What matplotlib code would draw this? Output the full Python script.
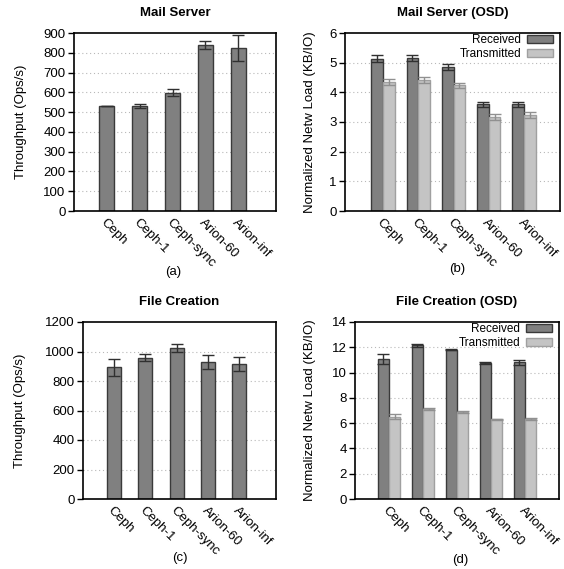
import numpy as np
import matplotlib
matplotlib.use("Agg")
import matplotlib.pyplot as plt
from matplotlib.patches import Patch
from matplotlib.transforms import blended_transform_factory

plt.rcParams['font.family'] = ['Liberation Sans', 'DejaVu Sans']

systems = ["Ceph", "Ceph-1", "Ceph-sync", "Arion-60", "Arion-inf"]

# (a) Mail Server throughput
mail_tput = [531, 531, 597, 839, 824]
mail_tput_err = [2, 9, 18, 21, 68]

# (b) Mail Server OSD network load
mail_rx = [5.14, 5.16, 4.85, 3.59, 3.59]
mail_rx_err = [0.11, 0.10, 0.10, 0.10, 0.10]
mail_tx = [4.35, 4.41, 4.24, 3.17, 3.23]
mail_tx_err = [0.10, 0.10, 0.09, 0.10, 0.10]

# (c) File Creation throughput
fc_tput = [894, 959, 1022, 928, 917]
fc_tput_err = [58, 22, 27, 50, 48]

# (d) File Creation OSD network load
fc_rx = [11.06, 12.16, 11.82, 10.72, 10.80]
fc_rx_err = [0.40, 0.10, 0.02, 0.08, 0.23]
fc_tx = [6.49, 7.12, 6.91, 6.30, 6.36]
fc_tx_err = [0.20, 0.10, 0.07, 0.02, 0.08]

DARK = "#808080"
DARK_EDGE = "#3a3a3a"
LIGHT = "#c4c4c4"
LIGHT_EDGE = "#a0a0a0"

fig = plt.figure(figsize=(5.64, 5.69), dpi=100, facecolor="white")
W, H = 564.0, 569.0

def make_ax(l, t, r, b):
    return fig.add_axes([l / W, 1 - b / H, (r - l) / W, (b - t) / H])

ax_a = make_ax(74, 33, 276, 211)
ax_b = make_ax(345, 33, 560, 211)
ax_c = make_ax(83, 322, 276, 499)
ax_d = make_ax(355, 322, 559, 499)

x = np.arange(len(systems))

def style(ax, title, ylabel, ymax, ystep, xlim, ylabel_x):
    ax.set_ylim(0, ymax)
    ax.set_xlim(*xlim)
    ticks = np.arange(0, ymax + ystep / 2, ystep)
    ax.set_yticks(ticks)
    ax.set_yticklabels([f"{t:g}" for t in ticks], fontsize=9.5)
    for t in ticks[1:-1]:
        ax.axhline(t, color="#b8b8b8", lw=0.8, ls=(0, (1, 2.5)), zorder=0)
    ax.set_xticks(x)
    ax.set_xticklabels(systems, rotation=-45, ha="left", va="top",
                       rotation_mode="anchor", fontsize=9.5)
    ax.tick_params(axis="x", length=0, pad=4)
    ax.tick_params(axis="y", length=4, width=1, direction="out", pad=2)
    for s in ax.spines.values():
        s.set_linewidth(1.2)
    ax.set_title(title, fontsize=9.5, fontweight="bold", pad=12)
    ax.set_ylabel(ylabel, fontsize=9.5)
    tr = blended_transform_factory(fig.transFigure, ax.transAxes)
    ax.yaxis.set_label_coords(ylabel_x, 0.5, transform=tr)

def single(ax, vals, errs):
    ax.bar(x, vals, width=0.45, color=DARK, edgecolor=DARK_EDGE, lw=1, zorder=2)
    ax.errorbar(x, vals, yerr=errs, fmt="none", ecolor="#303030",
                elinewidth=1, capsize=4, capthick=1, zorder=3)

def paired(ax, rx, rxe, tx, txe):
    w = 0.33
    ax.bar(x - w / 2, rx, width=w, color=DARK, edgecolor=DARK_EDGE, lw=1, zorder=2)
    ax.bar(x + w / 2, tx, width=w, color=LIGHT, edgecolor=LIGHT_EDGE, lw=1, zorder=2)
    ax.errorbar(x - w / 2, rx, yerr=rxe, fmt="none", ecolor="#303030",
                elinewidth=1, capsize=4, capthick=1, zorder=3)
    ax.errorbar(x + w / 2, tx, yerr=txe, fmt="none", ecolor="#909090",
                elinewidth=1, capsize=4, capthick=1, zorder=3)
    handles = [Patch(facecolor=DARK, edgecolor=DARK_EDGE, label="Received"),
               Patch(facecolor=LIGHT, edgecolor=LIGHT_EDGE, label="Transmitted")]
    ax.legend(handles=handles, loc="upper right", bbox_to_anchor=(0.99, 1.02),
              frameon=False, markerfirst=False,
              fontsize=8.5, handlelength=2.2, handleheight=0.6, labelspacing=0.15,
              borderaxespad=0.0, handletextpad=0.5)

single(ax_a, mail_tput, mail_tput_err)
style(ax_a, "Mail Server", "Throughput (Ops/s)", 900, 100, (-1.0, 5.15), 27 / W)

paired(ax_b, mail_rx, mail_rx_err, mail_tx, mail_tx_err)
style(ax_b, "Mail Server (OSD)", "Normalized Netw Load (KB/IO)", 6, 1, (-1.08, 5.02), 316 / W)

single(ax_c, fc_tput, fc_tput_err)
style(ax_c, "File Creation", "Throughput (Ops/s)", 1200, 200, (-1.0, 5.18), 26 / W)

paired(ax_d, fc_rx, fc_rx_err, fc_tx, fc_tx_err)
style(ax_d, "File Creation (OSD)", "Normalized Netw Load (KB/IO)", 14, 2, (-1.0, 5.0), 316 / W)

# sub-captions
for label, px, py in [("(a)", 173, 272), ("(b)", 457, 269), ("(c)", 180, 558), ("(d)", 460, 560)]:
    fig.text(px / W, 1 - py / H, label, ha="center", va="center", fontsize=9.5)

fig.savefig("out.png", dpi=100, facecolor="white")
